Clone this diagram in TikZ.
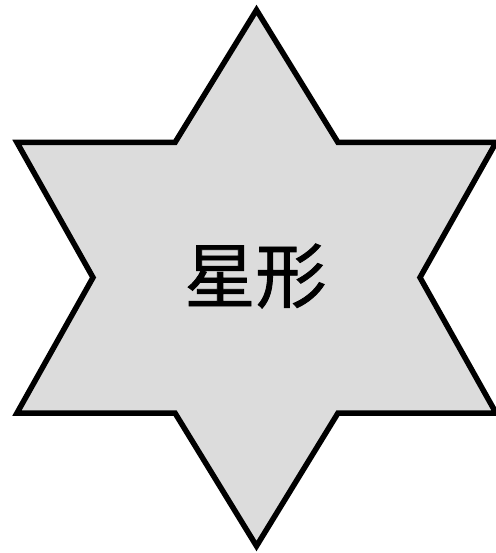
\documentclass[tikz,border=0pt]{standalone}
\usepackage{fontspec}
\newfontfamily\cjk[FakeBold=1.2]{Noto Sans CJK SC}
\begin{document}
\begin{tikzpicture}[x=1pt,y=-1pt,
  starshape/.style={draw=black,line width=5.5pt,fill={rgb,255:red,220;green,220;blue,220},line join=miter},
  labeltext/.style={font=\cjk\fontsize{71}{80}\selectfont,text=black,inner sep=0pt}]
\useasboundingbox (0,0) rectangle (495,553);
\draw[starshape] (256.5,10) -- (338,142.5) -- (496,142.5) -- (420,277.5) -- (496,413)
  -- (338,413) -- (256.5,546) -- (175,413) -- (17,413) -- (93,277.5) -- (17,142.5)
  -- (175,142.5) -- cycle;
\node[labeltext] (lbl) at (255.5,276) {星形};
\end{tikzpicture}
\end{document}
